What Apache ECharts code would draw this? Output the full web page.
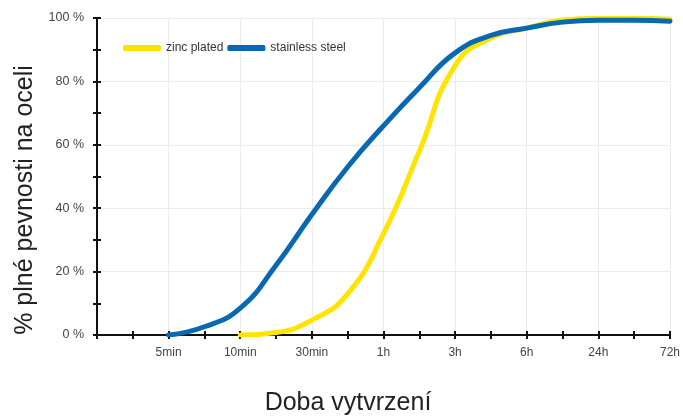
<!DOCTYPE html>
<html>
<head>
<meta charset="utf-8">
<script src="https://cdn.jsdelivr.net/npm/echarts@6/dist/echarts.min.js"></script>
<style>html,body{margin:0;padding:0;background:#fff}#c{width:683px;height:416px}</style>
</head>
<body>
<div id="c"></div>
<script>
// x positions are evenly spaced steps; labels every second step
var tickLabels = ['', '5min', '10min', '30min', '1h', '3h', '6h', '24h', '72h'];
var xSteps = [2, 3, 4, 5, 6, 7, 8, 9, 10, 11, 12, 13, 14, 15, 16];
var stainless = [0, 2.6, 8.5, 22, 38, 53, 66, 78, 89, 94.5, 96.8, 98.7, 99.3, 99.3, 99];
var zincSteps = [4, 5, 6, 7, 8, 9, 10, 11, 12, 13, 14, 15, 16];
var zinc = [0, 0.8, 4.7, 13, 32, 58, 85, 93.7, 96.8, 99.4, 99.9, 99.9, 99.6];
var seriesNames = ['zinc plated', 'stainless steel'];
var yTitle = '% plné pevnosti na oceli';
var xTitle = 'Doba vytvrzení';

function pairs(xs, ys) { return xs.map(function (x, i) { return [x, ys[i]]; }); }

var font = 'Liberation Sans, Arial, sans-serif';
function xAxisCfg(inside, main) {
  return {
    type: 'value', min: 0, max: 16, interval: 2, position: 'bottom', offset: 0,
    axisLine: { show: true, onZero: false, lineStyle: { color: '#111', width: 2 } },
    axisTick: { show: true, inside: inside, length: 4, lineStyle: { color: '#111', width: 2 } },
    minorTick: { show: true, splitNumber: 2, length: 4, lineStyle: { color: '#111', width: 2 } },
    axisLabel: { show: main, margin: 12, color: '#444', fontSize: 12, fontFamily: font,
      formatter: function (v) { return tickLabels[Math.round(v / 2)] || ''; } },
    splitLine: { show: main, lineStyle: { color: '#ececec', width: 1 } },
    minorSplitLine: { show: false }
  };
}
function yAxisCfg(inside, main) {
  return {
    type: 'value', min: 0, max: 100, interval: 20, position: 'left', offset: 0,
    axisLine: { show: true, onZero: false, lineStyle: { color: '#111', width: 2 } },
    axisTick: { show: true, inside: inside, length: 4, lineStyle: { color: '#111', width: 2 } },
    minorTick: { show: true, splitNumber: 2, length: 4, lineStyle: { color: '#111', width: 2 } },
    axisLabel: { show: main, margin: 13, color: '#444', fontSize: 12.5, fontFamily: font,
      formatter: function (v) { return v + ' %'; } },
    splitLine: { show: main, lineStyle: { color: '#ececec', width: 1 } }
  };
}

var chart = echarts.init(document.getElementById('c'));
chart.setOption({
  animation: false,
  backgroundColor: '#fff',
  grid: { left: 97, right: 11, top: 18, bottom: 81 },
  legend: {
    left: 118, top: 37, itemWidth: 38, itemHeight: 6, itemGap: 4,
    icon: 'roundRect',
    textStyle: { color: '#333', fontSize: 12, fontFamily: font },
    data: seriesNames
  },
  xAxis: [xAxisCfg(false, true), xAxisCfg(true, false)],
  yAxis: [yAxisCfg(false, true), yAxisCfg(true, false)],
  series: [
    { name: seriesNames[0], type: 'line', smooth: 0.5, symbol: 'none', xAxisIndex: 0, yAxisIndex: 0,
      data: pairs(zincSteps, zinc), lineStyle: { color: '#FFE400', width: 5, cap: 'round' }, itemStyle: { color: '#FFE400' } },
    { name: seriesNames[1], type: 'line', smooth: 0.5, symbol: 'none', xAxisIndex: 0, yAxisIndex: 0,
      data: pairs(xSteps, stainless), lineStyle: { color: '#0868B2', width: 5, cap: 'round' }, itemStyle: { color: '#0868B2' } },
    { name: 'axisHelper', type: 'line', symbol: 'none', xAxisIndex: 1, yAxisIndex: 1, data: [], silent: true }
  ],
  graphic: [
    { type: 'text', x: 25, y: 200, rotation: Math.PI / 2,
      style: { text: yTitle, font: '25px ' + font, fill: '#222', textAlign: 'center', textVerticalAlign: 'middle' } },
    { type: 'text', x: 348, y: 403,
      style: { text: xTitle, font: '25px ' + font, fill: '#222', textAlign: 'center', textVerticalAlign: 'middle' } }
  ]
});
</script>
</body>
</html>
